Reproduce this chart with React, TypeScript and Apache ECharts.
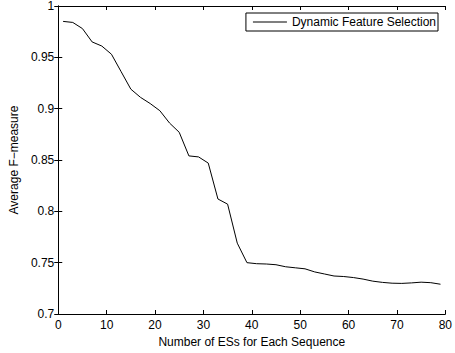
import React, { useEffect, useRef } from "react";
import * as echarts from "echarts";

const xValues = [1, 3, 5, 7, 9, 11, 13, 15, 17, 19, 21, 23, 25, 27, 29, 31, 33, 35, 37, 39, 41, 43, 45, 47, 49, 51, 53, 55, 57, 59, 61, 63, 65, 67, 69, 71, 73, 75, 77, 79];
const fValues = [0.985, 0.984, 0.978, 0.965, 0.961, 0.953, 0.936, 0.919, 0.911, 0.905, 0.898, 0.886, 0.877, 0.854, 0.853, 0.847, 0.812, 0.807, 0.769, 0.750, 0.749, 0.7487, 0.748, 0.746, 0.745, 0.744, 0.741, 0.739, 0.737, 0.7365, 0.7355, 0.734, 0.732, 0.7308, 0.730, 0.7298, 0.7303, 0.731, 0.7305, 0.729];
const seriesName = "Dynamic Feature Selection";
const xName = "Number of ESs for Each Sequence";
const yName = "Average F\u2212measure";

const font = "'Liberation Sans', Arial, Helvetica, sans-serif";

export default function App() {
  const ref = useRef<HTMLDivElement>(null);
  useEffect(() => {
    if (!ref.current) return;
    const chart = echarts.init(ref.current, null, { renderer: "svg" });
    const data = xValues.map((x, i) => [x, fValues[i]]);
    const axisLine = { show: true, lineStyle: { color: "#000", width: 1 } };
    const tickIn = { show: true, inside: true, length: 4, lineStyle: { color: "#000" } };
    chart.setOption({
      animation: false,
      backgroundColor: "#fff",
      textStyle: { fontFamily: font, color: "#000" },
      grid: { left: 57, right: 8, top: 6, bottom: 39, containLabel: false },
      legend: {
        data: [{ name: seriesName, icon: "rect" }],
        right: 17,
        top: 13,
        itemWidth: 34,
        itemHeight: 1,
        padding: [3, 2, 3, 7],
        borderColor: "#000",
        borderWidth: 1,
        backgroundColor: "#fff",
        textStyle: { fontFamily: font, fontSize: 12, color: "#000" },
      },
      xAxis: [
        {
          type: "value",
          min: 0,
          max: 80,
          interval: 10,
          position: "bottom",
          name: xName,
          nameLocation: "middle",
          nameGap: 19,
          nameTextStyle: { fontFamily: font, fontSize: 12, color: "#000" },
          axisLine,
          axisTick: tickIn,
          axisLabel: { fontFamily: font, fontSize: 12, color: "#000", margin: 5 },
          splitLine: { show: false },
        },
        {
          type: "value",
          min: 0,
          max: 80,
          interval: 10,
          position: "top",
          axisLine,
          axisTick: tickIn,
          axisLabel: { show: false },
          splitLine: { show: false },
        },
      ],
      yAxis: [
        {
          type: "value",
          min: 0.7,
          max: 1,
          interval: 0.05,
          position: "left",
          name: yName,
          nameLocation: "middle",
          nameGap: 26,
          nameTextStyle: { fontFamily: font, fontSize: 12, color: "#000" },
          axisLine,
          axisTick: tickIn,
          axisLabel: { fontFamily: font, fontSize: 12, color: "#000", margin: 4 },
          splitLine: { show: false },
        },
        {
          type: "value",
          min: 0.7,
          max: 1,
          interval: 0.05,
          position: "right",
          axisLine,
          axisTick: tickIn,
          axisLabel: { show: false },
          splitLine: { show: false },
        },
      ],
      series: [
        {
          name: seriesName,
          type: "line",
          data,
          symbol: "none",
          lineStyle: { color: "#000", width: 1 },
          itemStyle: { color: "#000" },
        },
      ],
    });
    return () => chart.dispose();
  }, []);
  return (
    <div
      ref={ref}
      style={{ position: "fixed", left: 0, top: 0, width: 455, height: 353, background: "#fff" }}
    />
  );
}
